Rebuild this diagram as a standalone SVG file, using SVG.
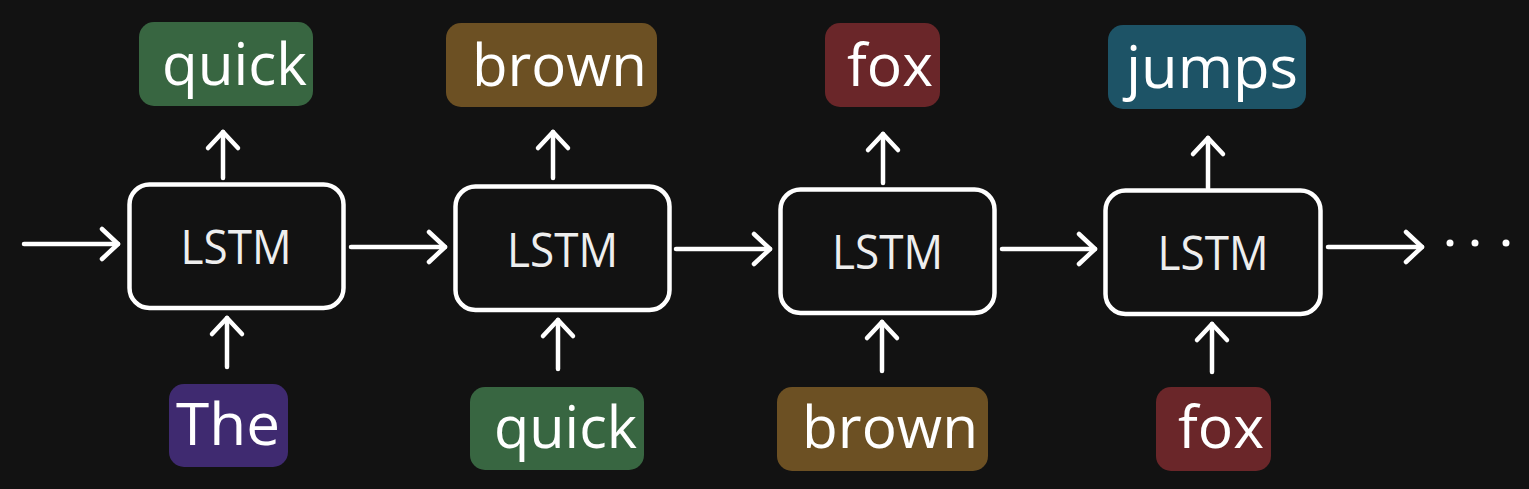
<svg xmlns="http://www.w3.org/2000/svg" width="1529" height="489" viewBox="0 0 1529 489">
<style>
.bg{fill:#121212}
.cell{fill:#121212;stroke:#ffffff;stroke-width:4.5}
.lt{font-family:"Open Sans","Noto Sans",sans-serif;font-size:47px;fill:#eeeeee;text-anchor:middle}
.wt{font-family:"Open Sans","Noto Sans",sans-serif;font-size:59px;fill:#ffffff;text-anchor:middle}
.ar{stroke:#ffffff;stroke-width:4.5;fill:none;stroke-linecap:round}
.green{fill:#386641}
.brown{fill:#6c5023}
.red{fill:#6a2629}
.teal{fill:#1d5366}
.purple{fill:#3f2a70}
</style>
<defs>
<marker id="ah" markerUnits="userSpaceOnUse" markerWidth="40" markerHeight="40" viewBox="-20 -20 40 40" refX="0" refY="0" orient="auto">
<path d="M -16 -15 L 0 0 L -16 15" fill="none" stroke="#ffffff" stroke-width="4.5" stroke-linecap="round" stroke-linejoin="round"/>
</marker>
</defs>
<rect class="bg" x="0" y="0" width="1529" height="489"/>

<g id="connectors">
<line class="ar" x1="24" y1="244" x2="118" y2="244" marker-end="url(#ah)"/>
<line class="ar" x1="351" y1="247" x2="445" y2="247" marker-end="url(#ah)"/>
<line class="ar" x1="676" y1="249" x2="770" y2="249" marker-end="url(#ah)"/>
<line class="ar" x1="1002" y1="249" x2="1095" y2="249" marker-end="url(#ah)"/>
<line class="ar" x1="1328" y1="247" x2="1422" y2="247" marker-end="url(#ah)"/>
<line class="ar" x1="223" y1="178" x2="223" y2="132" marker-end="url(#ah)"/>
<line class="ar" x1="553" y1="178" x2="553" y2="132" marker-end="url(#ah)"/>
<line class="ar" x1="883" y1="183" x2="883" y2="134" marker-end="url(#ah)"/>
<line class="ar" x1="1208" y1="188" x2="1208" y2="138" marker-end="url(#ah)"/>
<line class="ar" x1="227" y1="367" x2="227" y2="318" marker-end="url(#ah)"/>
<line class="ar" x1="558" y1="369" x2="558" y2="320" marker-end="url(#ah)"/>
<line class="ar" x1="882" y1="371" x2="882" y2="322" marker-end="url(#ah)"/>
<line class="ar" x1="1212" y1="372" x2="1212" y2="324" marker-end="url(#ah)"/>
</g>

<g id="lstm1"><rect class="cell" x="129.5" y="184.5" width="214" height="123.5" rx="20"/><text class="lt" x="236" y="264" textLength="111" lengthAdjust="spacingAndGlyphs">LSTM</text></g>
<g id="lstm2"><rect class="cell" x="455.5" y="186.5" width="214" height="123.5" rx="20"/><text class="lt" x="562.5" y="267" textLength="111" lengthAdjust="spacingAndGlyphs">LSTM</text></g>
<g id="lstm3"><rect class="cell" x="780.5" y="189.5" width="214" height="123.5" rx="20"/><text class="lt" x="887.5" y="269" textLength="111" lengthAdjust="spacingAndGlyphs">LSTM</text></g>
<g id="lstm4"><rect class="cell" x="1105.5" y="190.5" width="215" height="123.5" rx="20"/><text class="lt" x="1213" y="270" textLength="111" lengthAdjust="spacingAndGlyphs">LSTM</text></g>

<g id="out1"><rect class="green" x="139" y="22" width="174" height="84" rx="15"/><text class="wt" x="234.5" y="85" textLength="145" lengthAdjust="spacingAndGlyphs">quick</text></g>
<g id="out2"><rect class="brown" x="446" y="23" width="211" height="84" rx="15"/><text class="wt" x="559.5" y="86" textLength="175" lengthAdjust="spacingAndGlyphs">brown</text></g>
<g id="out3"><rect class="red" x="825" y="23" width="115" height="84" rx="15"/><text class="wt" x="890" y="86" textLength="86" lengthAdjust="spacingAndGlyphs">fox</text></g>
<g id="out4"><rect class="teal" x="1108" y="25" width="198" height="84" rx="15"/><text class="wt" x="1212" y="88" textLength="172" lengthAdjust="spacingAndGlyphs">jumps</text></g>

<g id="in1"><rect class="purple" x="169" y="384" width="119" height="83" rx="15"/><text class="wt" x="228" y="445" textLength="104" lengthAdjust="spacingAndGlyphs">The</text></g>
<g id="in2"><rect class="green" x="470" y="387" width="174" height="83" rx="15"/><text class="wt" x="565.5" y="448" textLength="143" lengthAdjust="spacingAndGlyphs">quick</text></g>
<g id="in3"><rect class="brown" x="777" y="387" width="211" height="84" rx="15"/><text class="wt" x="890" y="448" textLength="176" lengthAdjust="spacingAndGlyphs">brown</text></g>
<g id="in4"><rect class="red" x="1156" y="387" width="115" height="84" rx="15"/><text class="wt" x="1221" y="448" textLength="86" lengthAdjust="spacingAndGlyphs">fox</text></g>

<g id="dots" fill="#ffffff">
<circle cx="1450" cy="243" r="3.5"/>
<circle cx="1475" cy="243" r="3.5"/>
<circle cx="1506" cy="243" r="3.5"/>
</g>
</svg>
